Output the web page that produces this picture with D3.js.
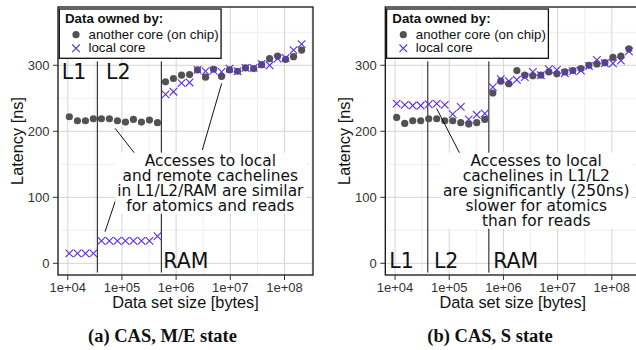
<!DOCTYPE html>
<html>
<head>
<meta charset="utf-8">
<script src="https://cdn.jsdelivr.net/npm/d3@7"></script>
<style>
  body { margin: 0; background: #fff; }
  svg { display: block; }
</style>
</head>
<body>
<svg id="chart" width="636" height="350"></svg>
<script>
// data set sizes (bytes), shared by both panels
const sizes = [10700, 15100, 21200, 29700, 41800, 58700, 82600, 116000, 163000, 229000,
  322000, 453000, 637000, 893000, 1.26e6, 1.77e6, 2.48e6, 3.49e6, 4.90e6, 6.89e6,
  9.68e6, 1.36e7, 1.91e7, 2.69e7, 3.78e7, 5.31e7, 7.46e7, 1.05e8, 1.47e8, 2.07e8];

// (a) CAS, M/E state
const remoteME = [222, 216, 216, 219, 219, 219, 216, 214, 218, 214, 217, 213,
  275, 280, 285, 286, 293, 282, 294, 283, 293, 291, 296, 295, 301, 310, 314, 309, 313, 323];
const localME = [15, 15, 15, 15, 34, 34, 34, 34, 34, 34, 34, 41,
  256, 260, 273, 274, 293, 291, 292, 290, 295, 291, 296, 296, 302, 300, 310, 311, 323, 332];

// (b) CAS, S state
const remoteS = [221, 212, 216, 216, 219, 219, 216, 216, 213, 211, 213, 218,
  258, 276, 272, 292, 285, 284, 285, 290, 287, 290, 292, 295, 300, 302, 304, 312, 314, 325];
const localS = [242, 240, 239, 239, 241, 242, 240, 226, 237, 218, 225, 227,
  267, 279, 276, 278, 282, 290, 285, 294, 293, 288, 291, 292, 299, 308, 303, 303, 307, 321];

const xTicks = [1e4, 1e5, 1e6, 1e7, 1e8];
const xTickLabels = ["1e+04", "1e+05", "1e+06", "1e+07", "1e+08"];
const xMinor = [10 ** 4.5, 10 ** 5.5, 10 ** 6.5, 10 ** 7.5, 10 ** 8.5];
const yTicks = [0, 100, 200, 300];
const yMinor = [50, 150, 250, 350];

const legendTitle = "Data owned by:";
const seriesNames = ["another core (on chip)", "local core"];

const noteME = ["Accesses to local", "and remote cachelines", "in L1/L2/RAM are similar", "for atomics and reads"];
const noteS = ["Accesses to local", "cachelines in L1/L2", "are significantly (250ns)", "slower for atomics", "than for reads"];

const panels = [
  {
    left: 58, remote: remoteME, local: localME,
    splits: [10 ** 4.546, 10 ** 5.727],
    levels: [["L1", 10 ** 3.89, 279], ["L2", 10 ** 4.707, 279], ["RAM", 10 ** 5.764, -7.6]],
    note: noteME, noteAt: [10 ** 6.631, 147.9],
    pointers: [[10 ** 4.873, 204.5, 10 ** 5.321, 157.6],
               [10 ** 6.841, 272.7, 10 ** 6.483, 171.7],
               [10 ** 4.946, 111, 10 ** 4.688, 47.9]],
    caption: "(a) CAS, M/E state", captionX: 162.5
  },
  {
    left: 385.3, remote: remoteS, local: localS,
    splits: [10 ** 4.604, 10 ** 5.731],
    levels: [["L1", 10 ** 3.895, -7.6], ["L2", 10 ** 4.718, -7.6], ["RAM", 10 ** 5.81, -7.6]],
    note: noteS, noteAt: [10 ** 6.606, 147.9],
    pointers: [[10 ** 4.766, 234.8, 10 ** 5.289, 151.5]],
    caption: "(b) CAS, S state", captionX: 490
  }
];

const dotColor = "#525252";
const crossColor = "#5b2ee6";
const sans = "'Liberation Sans', Arial, sans-serif";
const dejavu = "'DejaVu Sans', sans-serif";

const svg = d3.select("#chart");
const panelTop = 7, panelBottom = 275, panelW = 255;

panels.forEach(p => {
  const x = d3.scaleLog().domain([10 ** 3.82, 10 ** 8.526]).range([p.left, p.left + panelW]);
  const y = d3.scaleLinear().domain([-17.7, 388.3]).range([panelBottom, panelTop]);
  const g = svg.append("g");

  // grid
  g.selectAll(".gx2").data(xMinor).join("line")
    .attr("x1", d => x(d)).attr("x2", d => x(d)).attr("y1", panelTop).attr("y2", panelBottom)
    .attr("stroke", "#efefef");
  g.selectAll(".gy2").data(yMinor).join("line")
    .attr("y1", d => y(d)).attr("y2", d => y(d)).attr("x1", p.left).attr("x2", p.left + panelW)
    .attr("stroke", "#efefef");
  g.selectAll(".gx").data(xTicks).join("line")
    .attr("x1", d => x(d)).attr("x2", d => x(d)).attr("y1", panelTop).attr("y2", panelBottom)
    .attr("stroke", "#d4d4d4");
  g.selectAll(".gy").data(yTicks).join("line")
    .attr("y1", d => y(d)).attr("y2", d => y(d)).attr("x1", p.left).attr("x2", p.left + panelW)
    .attr("stroke", "#d4d4d4");

  // cache level boundaries
  g.selectAll(".split").data(p.splits).join("line")
    .attr("x1", d => x(d)).attr("x2", d => x(d)).attr("y1", y(306)).attr("y2", y(-14))
    .attr("stroke", "#111").attr("stroke-width", 1);

  // points
  g.selectAll(".dot").data(p.remote).join("circle")
    .attr("cx", (d, i) => x(sizes[i])).attr("cy", d => y(d)).attr("r", 3.6)
    .attr("fill", dotColor);
  const s = 3.8;
  g.selectAll(".cross").data(p.local).join("path")
    .attr("d", (d, i) => {
      const cx = x(sizes[i]), cy = y(d);
      return `M${cx - s},${cy - s}L${cx + s},${cy + s}M${cx - s},${cy + s}L${cx + s},${cy - s}`;
    })
    .attr("stroke", crossColor).attr("stroke-width", 1.1).attr("fill", "none");

  // level labels
  g.selectAll(".lvl").data(p.levels).join("text")
    .attr("x", d => x(d[1])).attr("y", d => y(d[2]))
    .attr("font-family", dejavu).attr("font-size", 20.5).attr("fill", "#111")
    .text(d => d[0]);

  // pointers
  g.selectAll(".ptr").data(p.pointers).join("line")
    .attr("x1", d => x(d[0])).attr("y1", d => y(d[1]))
    .attr("x2", d => x(d[2])).attr("y2", d => y(d[3]))
    .attr("stroke", "#111").attr("stroke-width", 1);

  // annotation with white background
  const bg = g.append("rect").attr("fill", "#fff");
  const note = g.append("text")
    .attr("font-family", dejavu).attr("font-size", 15.4).attr("fill", "#111")
    .attr("text-anchor", "middle");
  note.selectAll("tspan").data(p.note).join("tspan")
    .attr("x", x(p.noteAt[0])).attr("y", (d, i) => y(p.noteAt[1]) + i * 15)
    .text(d => d);
  const bb = note.node().getBBox();
  bg.attr("x", bb.x - 2).attr("y", bb.y + 1).attr("width", bb.width + 4).attr("height", bb.height - 2);

  // panel border
  g.append("rect").attr("x", p.left).attr("y", panelTop).attr("width", panelW).attr("height", panelBottom - panelTop)
    .attr("fill", "none").attr("stroke", "#111").attr("stroke-width", 1.3);

  // axes
  g.selectAll(".xt").data(xTicks).join("line")
    .attr("x1", d => x(d)).attr("x2", d => x(d)).attr("y1", panelBottom).attr("y2", panelBottom + 5)
    .attr("stroke", "#333");
  g.selectAll(".xl").data(xTicks).join("text")
    .attr("x", d => x(d)).attr("y", 292).attr("text-anchor", "middle")
    .attr("font-family", sans).attr("font-size", 13).attr("fill", "#333")
    .text((d, i) => xTickLabels[i]);
  g.selectAll(".yt").data(yTicks).join("line")
    .attr("y1", d => y(d)).attr("y2", d => y(d)).attr("x1", p.left - 5).attr("x2", p.left)
    .attr("stroke", "#333");
  g.selectAll(".yl").data(yTicks).join("text")
    .attr("x", p.left - 8.5).attr("y", d => y(d) + 4.7).attr("text-anchor", "end")
    .attr("font-family", sans).attr("font-size", 13).attr("fill", "#333")
    .text(d => d);

  g.append("text")
    .attr("x", p.left + panelW / 2).attr("y", 307.5).attr("text-anchor", "middle")
    .attr("font-family", sans).attr("font-size", 16.3).attr("fill", "#111")
    .text("Data set size [bytes]");
  g.append("text")
    .attr("transform", `translate(${p.left - 35},${(panelTop + panelBottom) / 2}) rotate(-90)`)
    .attr("text-anchor", "middle")
    .attr("font-family", sans).attr("font-size", 16.3).attr("fill", "#111")
    .text("Latency [ns]");

  // legend
  const lg = g.append("g");
  const box = lg.append("rect").attr("fill", "#fff").attr("stroke", "#111").attr("stroke-width", 1.3);
  lg.append("text").attr("x", p.left + 7).attr("y", 23.3)
    .attr("font-family", sans).attr("font-size", 13.3).attr("font-weight", "bold").attr("fill", "#111")
    .text(legendTitle);
  lg.selectAll(".li").data(seriesNames).join("text")
    .attr("x", p.left + 30.5).attr("y", (d, i) => 39.3 + i * 13)
    .attr("font-family", sans).attr("font-size", 13.3).attr("fill", "#111")
    .text(d => d);
  lg.append("circle").attr("cx", p.left + 18).attr("cy", 34.7).attr("r", 3.6).attr("fill", dotColor);
  const lx = p.left + 18, ly = 48.3;
  lg.append("path")
    .attr("d", `M${lx - s},${ly - s}L${lx + s},${ly + s}M${lx - s},${ly + s}L${lx + s},${ly - s}`)
    .attr("stroke", crossColor).attr("stroke-width", 1.1);
  const lb = lg.node().getBBox();
  box.attr("x", p.left + 1.3).attr("y", 9).attr("width", lb.x + lb.width + 2.5 - (p.left + 1.3)).attr("height", 49.3);

  // caption
  svg.append("text")
    .attr("x", p.captionX).attr("y", 341.7).attr("text-anchor", "middle")
    .attr("font-family", "'Liberation Serif', 'DejaVu Serif', serif").attr("font-weight", "bold")
    .attr("font-size", 18.5).attr("fill", "#111")
    .text(p.caption);
});
</script>
</body>
</html>
